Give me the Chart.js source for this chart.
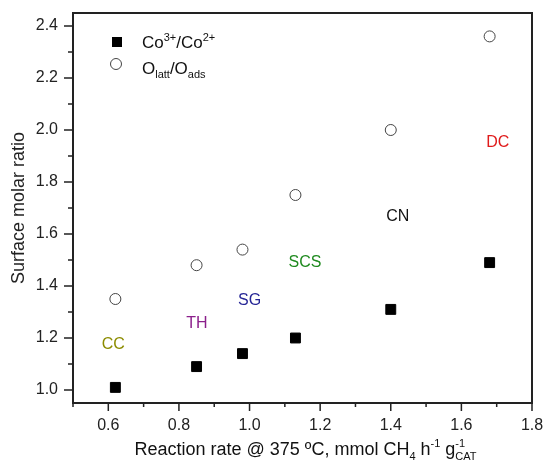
<!DOCTYPE html>
<html>
<head>
<meta charset="utf-8">
<script src="https://cdn.jsdelivr.net/npm/chart.js@4.4.0/dist/chart.umd.min.js"></script>
<style>
  html, body { margin: 0; padding: 0; background: #fff; }
</style>
</head>
<body>
<canvas id="chart" width="547" height="461"></canvas>
<script>
// data
const rate = [0.62, 0.85, 0.98, 1.13, 1.40, 1.68];
const coRatio = [1.01, 1.09, 1.14, 1.20, 1.31, 1.49];
const oRatio = [1.35, 1.48, 1.54, 1.75, 2.00, 2.36];

// sample names written next to the points
const samples = ['CC', 'TH', 'SG', 'SCS', 'CN', 'DC'];
const sampleColors = ['#8c8c00', '#8b1f8b', '#262696', '#1f8a1f', '#111111', '#e01b1b'];
const sampleX = [0.614, 0.851, 1.0, 1.157, 1.42, 1.703];
const sampleY = [1.176, 1.257, 1.345, 1.491, 1.667, 1.951];

// tick values (every 0.1, labels on every 0.2)
const xTicks = [0.5, 0.6, 0.7, 0.8, 0.9, 1.0, 1.1, 1.2, 1.3, 1.4, 1.5, 1.6, 1.7, 1.8];
const yTicks = [1.0, 1.1, 1.2, 1.3, 1.4, 1.5, 1.6, 1.7, 1.8, 1.9, 2.0, 2.1, 2.2, 2.3, 2.4];

const FONT = 'Arial, "Liberation Sans", sans-serif';
const isMajor = v => Math.round(v * 10) % 2 === 0;

function toPoints(xs, ys) {
  return xs.map((x, i) => ({ x: x, y: ys[i] }));
}

// text pieces with super/subscripts, seg = [text, 'n'|'sup'|'sub'|'stack', lower]
function richWidth(ctx, segs, size) {
  let w = 0;
  segs.forEach(s => {
    if (s[1] === 'n') { ctx.font = size + 'px ' + FONT; w += ctx.measureText(s[0]).width; }
    else if (s[1] === 'stack') {
      ctx.font = Math.round(size * 0.62) + 'px ' + FONT;
      w += Math.max(ctx.measureText(s[0]).width, ctx.measureText(s[2]).width);
    } else { ctx.font = Math.round(size * 0.62) + 'px ' + FONT; w += ctx.measureText(s[0]).width; }
  });
  return w;
}

function drawRich(ctx, segs, x, y, size) {
  const small = Math.round(size * 0.62);
  ctx.textAlign = 'left';
  ctx.textBaseline = 'alphabetic';
  segs.forEach(s => {
    if (s[1] === 'n') {
      ctx.font = size + 'px ' + FONT;
      ctx.fillText(s[0], x, y);
      x += ctx.measureText(s[0]).width;
    } else if (s[1] === 'sup') {
      ctx.font = small + 'px ' + FONT;
      ctx.fillText(s[0], x, y - size * 0.42);
      x += ctx.measureText(s[0]).width;
    } else if (s[1] === 'sub') {
      ctx.font = small + 'px ' + FONT;
      ctx.fillText(s[0], x, y + size * 0.25);
      x += ctx.measureText(s[0]).width;
    } else {
      ctx.font = small + 'px ' + FONT;
      ctx.fillText(s[0], x, y - size * 0.42);
      ctx.fillText(s[2], x, y + size * 0.25);
      x += Math.max(ctx.measureText(s[0]).width, ctx.measureText(s[2]).width);
    }
  });
}

const decor = {
  id: 'decor',
  afterDraw(chart) {
    const ctx = chart.ctx;
    const a = chart.chartArea;
    const xs = chart.scales.x, ys = chart.scales.y;
    ctx.save();

    // frame
    ctx.strokeStyle = '#222';
    ctx.lineWidth = 2;
    ctx.strokeRect(a.left, a.top, a.right - a.left, a.bottom - a.top);

    // outward tick marks
    ctx.lineWidth = 1.5;
    ctx.beginPath();
    xs.ticks.forEach(t => {
      const px = xs.getPixelForValue(t.value);
      ctx.moveTo(px, a.bottom);
      ctx.lineTo(px, a.bottom + (isMajor(t.value) ? 8 : 4));
    });
    ys.ticks.forEach(t => {
      const py = ys.getPixelForValue(t.value);
      ctx.moveTo(a.left, py);
      ctx.lineTo(a.left - (isMajor(t.value) ? 9 : 5), py);
    });
    ctx.stroke();

    // sample names
    ctx.font = '16px ' + FONT;
    ctx.textAlign = 'center';
    ctx.textBaseline = 'middle';
    samples.forEach((s, i) => {
      ctx.fillStyle = sampleColors[i];
      ctx.fillText(s, xs.getPixelForValue(sampleX[i]), ys.getPixelForValue(sampleY[i]));
    });

    // legend
    ctx.fillStyle = '#000';
    const lx = a.left + 44, ly1 = a.top + 29, ly2 = a.top + 51;
    ctx.fillRect(lx - 5, ly1 - 5, 10, 10);
    ctx.beginPath();
    ctx.fillStyle = '#fff';
    ctx.strokeStyle = '#444';
    ctx.lineWidth = 1;
    ctx.arc(lx - 1, ly2, 5.5, 0, Math.PI * 2);
    ctx.fill();
    ctx.stroke();
    ctx.fillStyle = '#111';
    drawRich(ctx, [['Co', 'n'], ['3+', 'sup'], ['/Co', 'n'], ['2+', 'sup']], lx + 25, ly1 + 6, 17);
    drawRich(ctx, [['O', 'n'], ['latt', 'sub'], ['/O', 'n'], ['ads', 'sub']], lx + 25, ly2 + 10, 17);

    // x axis title
    const title = [['Reaction rate @ 375 ºC, mmol CH', 'n'], ['4', 'sub'], [' h', 'n'], ['-1', 'sup'],
                   [' g', 'n'], ['-1', 'stack', 'CAT']];
    const w = richWidth(ctx, title, 18);
    drawRich(ctx, title, (a.left + a.right) / 2 + 3 - w / 2, 455, 18);

    ctx.restore();
  }
};

new Chart(document.getElementById('chart'), {
  type: 'scatter',
  data: {
    datasets: [
      {
        label: 'Co3+/Co2+',
        data: toPoints(rate, coRatio),
        pointStyle: 'rect',
        pointRadius: 7,
        backgroundColor: '#000',
        borderColor: '#000',
        borderWidth: 1
      },
      {
        label: 'Olatt/Oads',
        data: toPoints(rate, oRatio),
        pointStyle: 'circle',
        pointRadius: 5.5,
        backgroundColor: '#fff',
        borderColor: '#444',
        borderWidth: 1
      }
    ]
  },
  options: {
    responsive: false,
    animation: false,
    layout: { padding: { top: 13, right: 15, left: 0, bottom: 0 } },
    plugins: {
      legend: { display: false },
      tooltip: { enabled: false }
    },
    scales: {
      x: {
        type: 'linear',
        min: 0.5,
        max: 1.8,
        afterBuildTicks: s => { s.ticks = xTicks.map(v => ({ value: v })); },
        afterFit: s => { s.height = 58; s.paddingLeft = 0; s.paddingRight = 0; },
        border: { display: false },
        grid: { drawOnChartArea: false, drawTicks: true, tickLength: 8, color: 'rgba(0,0,0,0)' },
        ticks: {
          autoSkip: false,
          maxRotation: 0,
          padding: 5,
          color: '#222',
          font: { family: FONT, size: 16 },
          callback: v => isMajor(v) ? v.toFixed(1) : ''
        }
      },
      y: {
        min: 0.95,
        max: 2.45,
        afterBuildTicks: s => { s.ticks = yTicks.map(v => ({ value: v })); },
        afterFit: s => { s.width = 73; s.paddingTop = 0; s.paddingBottom = 0; },
        border: { display: false },
        grid: { drawOnChartArea: false, drawTicks: true, tickLength: 8, color: 'rgba(0,0,0,0)' },
        ticks: {
          autoSkip: false,
          padding: 7,
          color: '#222',
          font: { family: FONT, size: 16 },
          callback: v => isMajor(v) ? v.toFixed(1) : ''
        },
        title: {
          display: true,
          text: 'Surface molar ratio',
          color: '#222',
          font: { family: FONT, size: 18 },
          padding: { top: 8, bottom: 0 }
        }
      }
    }
  },
  plugins: [decor]
});
</script>
</body>
</html>
